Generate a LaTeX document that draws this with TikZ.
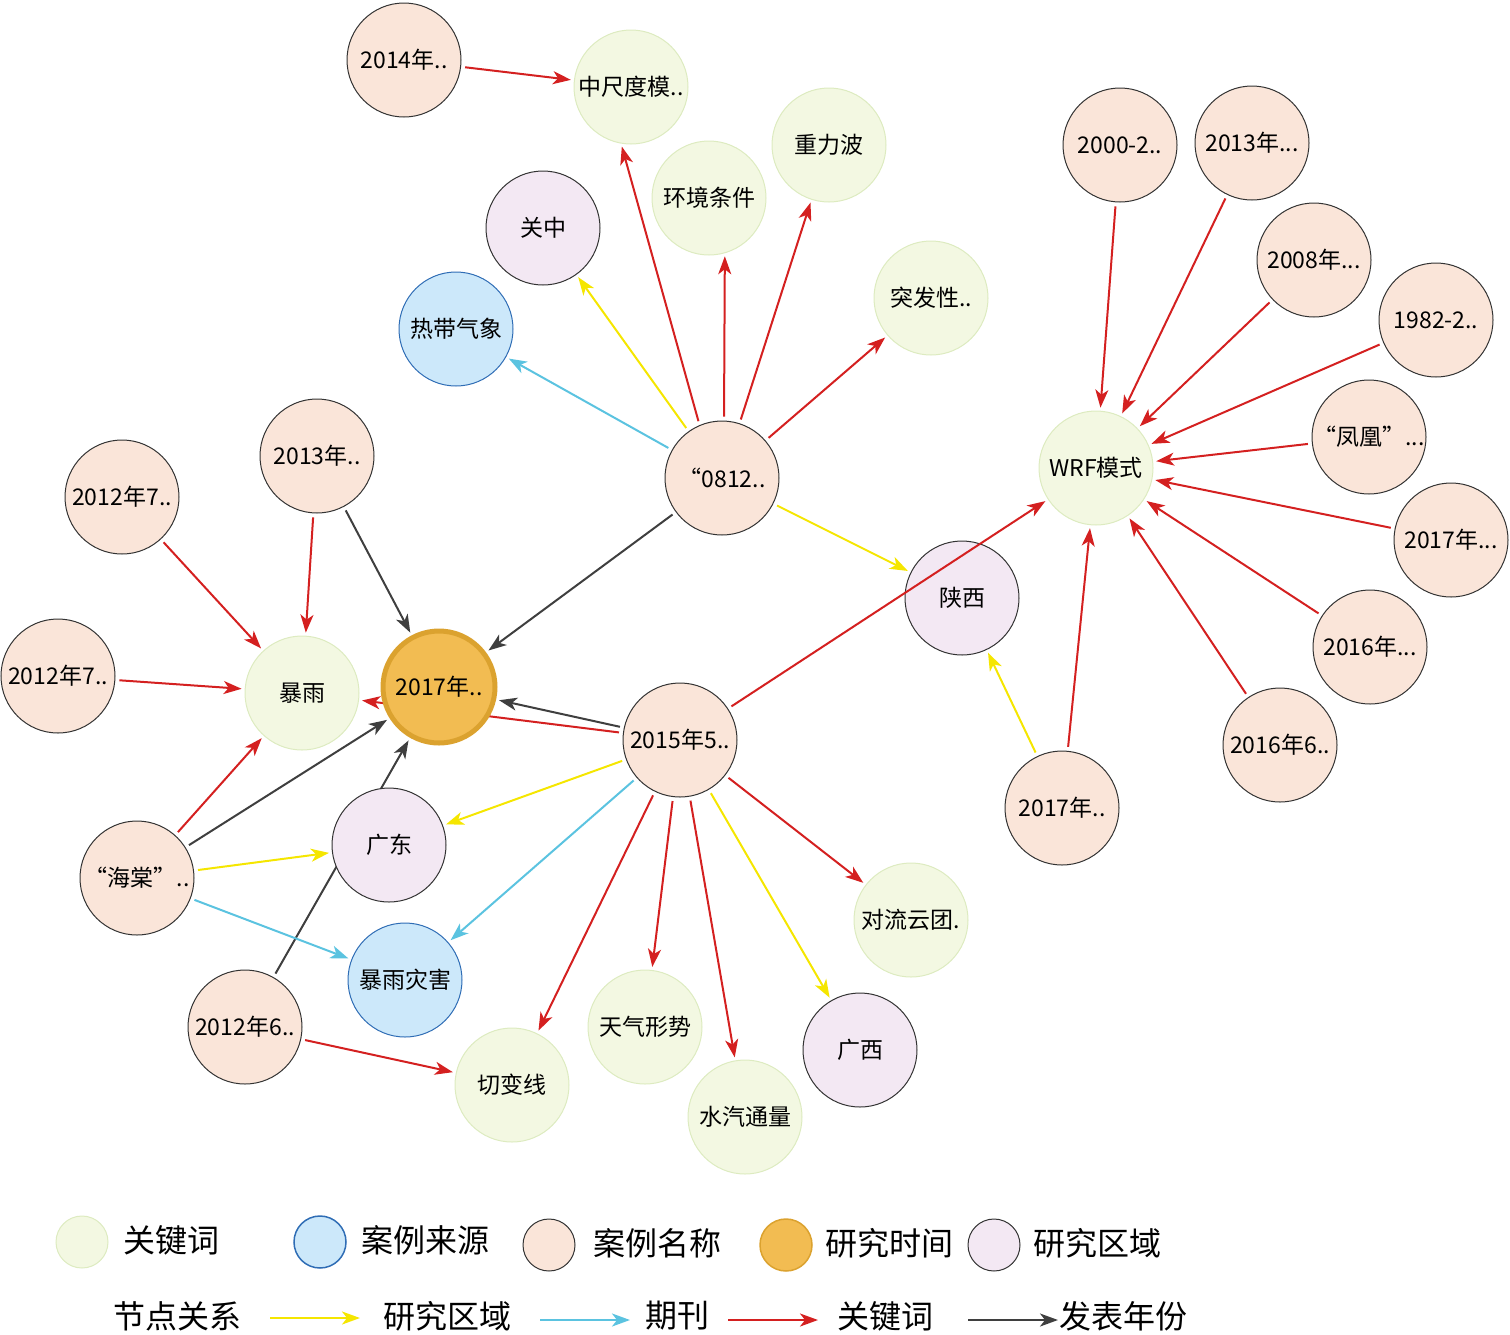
\documentclass[tikz,border=0pt]{standalone}
\usepackage{fontspec}
\setmainfont{Noto Sans CJK SC}
\usetikzlibrary{arrows.meta}
\definecolor{kwF}{HTML}{F3F8E2}\definecolor{kwD}{HTML}{DDEBC0}
\definecolor{srF}{HTML}{CCE8FA}\definecolor{srD}{HTML}{2F6DB5}
\definecolor{csF}{HTML}{FAE5D9}\definecolor{tmF}{HTML}{F2BC52}\definecolor{tmD}{HTML}{DBA22F}
\definecolor{rgF}{HTML}{F3E8F3}
\definecolor{cR}{HTML}{D42020}\definecolor{cY}{HTML}{F5E600}\definecolor{cB}{HTML}{5BC3E0}\definecolor{cK}{HTML}{3F3F3F}
\tikzset{
 nd/.style={circle,minimum size=114pt,inner sep=0pt,font=\fontsize{23}{25}\selectfont,line width=1pt},
 kw/.style={nd,fill=kwF,draw=kwD},
 src/.style={nd,fill=srF,draw=srD},
 cs/.style={nd,fill=csF,draw=black!80},
 tm/.style={nd,fill=tmF,draw=tmD,line width=5pt,minimum size=112pt},
 rg/.style={nd,fill=rgF,draw=black!80},
 ar/.style={line width=2pt,-{Stealth[length=18pt,width=13pt,inset=5pt]},shorten >=3pt,shorten <=4pt},
 R/.style={ar,cR}, Y/.style={ar,cY}, B/.style={ar,cB}, K/.style={ar,cK},
 lg/.style={font=\fontsize{32}{34}\selectfont,anchor=west},
}
\begin{document}
\begin{tikzpicture}[x=1pt,y=-1pt]
\useasboundingbox (0,0) rectangle (1510,1334);
% nodes
\node[cs] (a2014) at (404,60) {2014年..};
\node[kw] (zcd) at (631,87) {中尺度模..};
\node[kw] (hjtj) at (709,198) {环境条件};
\node[kw] (zlb) at (829,145) {重力波};
\node[rg] (gz) at (543,228) {关中};
\node[src] (rdqx) at (456,329) {热带气象};
\node[kw] (tfx) at (931,298) {突发性..};
\node[cs] (n0812) at (722,478) {“0812..};
\node[cs] (a2013) at (317,456) {2013年..};
\node[cs] (a2012a) at (122,497) {2012年7..};
\node[cs] (a2012b) at (58,676) {2012年7..};
\node[kw] (by) at (302,693) {暴雨};
\node[cs] (a2015) at (680,740) {2015年5..};
\node[rg] (sx) at (962,598) {陕西};
\node[kw] (wrf) at (1096,468) {WRF模式};
\node[cs] (b2000) at (1120,145) {2000-2..};
\node[cs] (b2013) at (1252,143) {2013年...};
\node[cs] (b2008) at (1314,260) {2008年...};
\node[cs] (b1982) at (1436,320) {1982-2..};
\node[cs] (fh) at (1369,437) {“凤凰”...};
\node[cs] (b2017) at (1451,540) {2017年...};
\node[cs] (b2016a) at (1370,647) {2016年...};
\node[cs] (b2016b) at (1280,745) {2016年6..};
\node[cs] (c2017) at (1062,808) {2017年..};
\node[cs] (ht) at (137,878) {“海棠”..};
\node[src] (byzh) at (405,980) {暴雨灾害};
\node[cs] (a2012c) at (245,1027) {2012年6..};
\node[kw] (qbx) at (512,1085) {切变线};
\node[kw] (tqxs) at (645,1027) {天气形势};
\node[kw] (sqtl) at (745,1117) {水汽通量};
\node[rg] (gx) at (860,1050) {广西};
\node[kw] (dlyt) at (911,920) {对流云团.};
% edges
\draw[R] (a2014) -- (zcd);
\draw[R] (n0812.113) -- (zcd.-100);
\draw[R] (n0812.88) -- (hjtj.-74);
\draw[R] (n0812) -- (zlb);
\draw[R] (n0812) -- (tfx);
\draw[Y] (n0812) -- (gz);
\draw[B] (n0812) -- (rdqx);
\draw[Y] (n0812) -- (sx);
\draw[R] (a2013) -- (by);
\draw[R] (a2012a) -- (by);
\draw[R] (a2012b) -- (by);
\draw[R] (a2015) -- (by);
\node[tm] (t2017) at (439,687) {2017年..};
\draw[K] (n0812) -- (t2017);
\draw[K] (a2013) -- (t2017);
\draw[K] (a2015) -- (t2017);
\draw[K] (ht) -- (t2017);
\draw[K] (a2012c) -- (t2017);
\node[rg] (gd) at (389,845) {广东};
\draw[R] (a2015) -- (wrf);
\draw[Y] (a2015) -- (gd);
\draw[B] (a2015) -- (byzh);
\draw[R] (a2015) -- (qbx);
\draw[R] (a2015) -- (tqxs);
\draw[R] (a2015) -- (sqtl);
\draw[Y] (a2015) -- (gx);
\draw[R] (a2015) -- (dlyt);
\draw[R] (ht) -- (by);
\draw[Y] (ht) -- (gd);
\draw[B] (ht) -- (byzh);
\draw[R] (a2012c) -- (qbx);
\foreach \n in {b2000,b2013,b2008,b1982,fh,b2017,b2016a,b2016b,c2017} \draw[R] (\n) -- (wrf);
\draw[Y] (c2017) -- (sx);
% legend
\node[circle,minimum size=52pt,fill=kwF,draw=kwD,line width=1pt] (l1) at (82,1242) {};
\node[lg] (t1) at (120,1240) {关键词};
\node[circle,minimum size=52pt,fill=srF,draw=srD,line width=1.5pt] (l2) at (320,1242) {};
\node[lg] (t2) at (358,1240) {案例来源};
\node[circle,minimum size=52pt,fill=csF,draw=black!80,line width=1pt] (l3) at (549,1245) {};
\node[lg] (t3) at (590,1243) {案例名称};
\node[circle,minimum size=52pt,fill=tmF,draw=tmD,line width=1.5pt] (l4) at (786,1245) {};
\node[lg] (t4) at (822,1243) {研究时间};
\node[circle,minimum size=52pt,fill=rgF,draw=black!80,line width=1pt] (l5) at (994,1245) {};
\node[lg] (t5) at (1030,1243) {研究区域};
\node[lg] (u0) at (110,1316) {节点关系};
\coordinate (y1) at (270,1318); \coordinate (y2) at (360,1318);
\draw[Y,shorten <=0pt,shorten >=0pt] (y1) -- (y2);
\node[lg] (u1) at (380,1316) {研究区域};
\coordinate (b1) at (540,1320); \coordinate (b2) at (630,1320);
\draw[B,shorten <=0pt,shorten >=0pt] (b1) -- (b2);
\node[lg] (u2) at (642,1316) {期刊};
\coordinate (r1) at (728,1320); \coordinate (r2) at (818,1320);
\draw[R,shorten <=0pt,shorten >=0pt] (r1) -- (r2);
\node[lg] (u3) at (834,1316) {关键词};
\coordinate (k1) at (968,1320); \coordinate (k2) at (1058,1320);
\draw[K,shorten <=0pt,shorten >=0pt] (k1) -- (k2);
\node[lg] (u4) at (1056,1316) {发表年份};
\end{tikzpicture}
\end{document}
